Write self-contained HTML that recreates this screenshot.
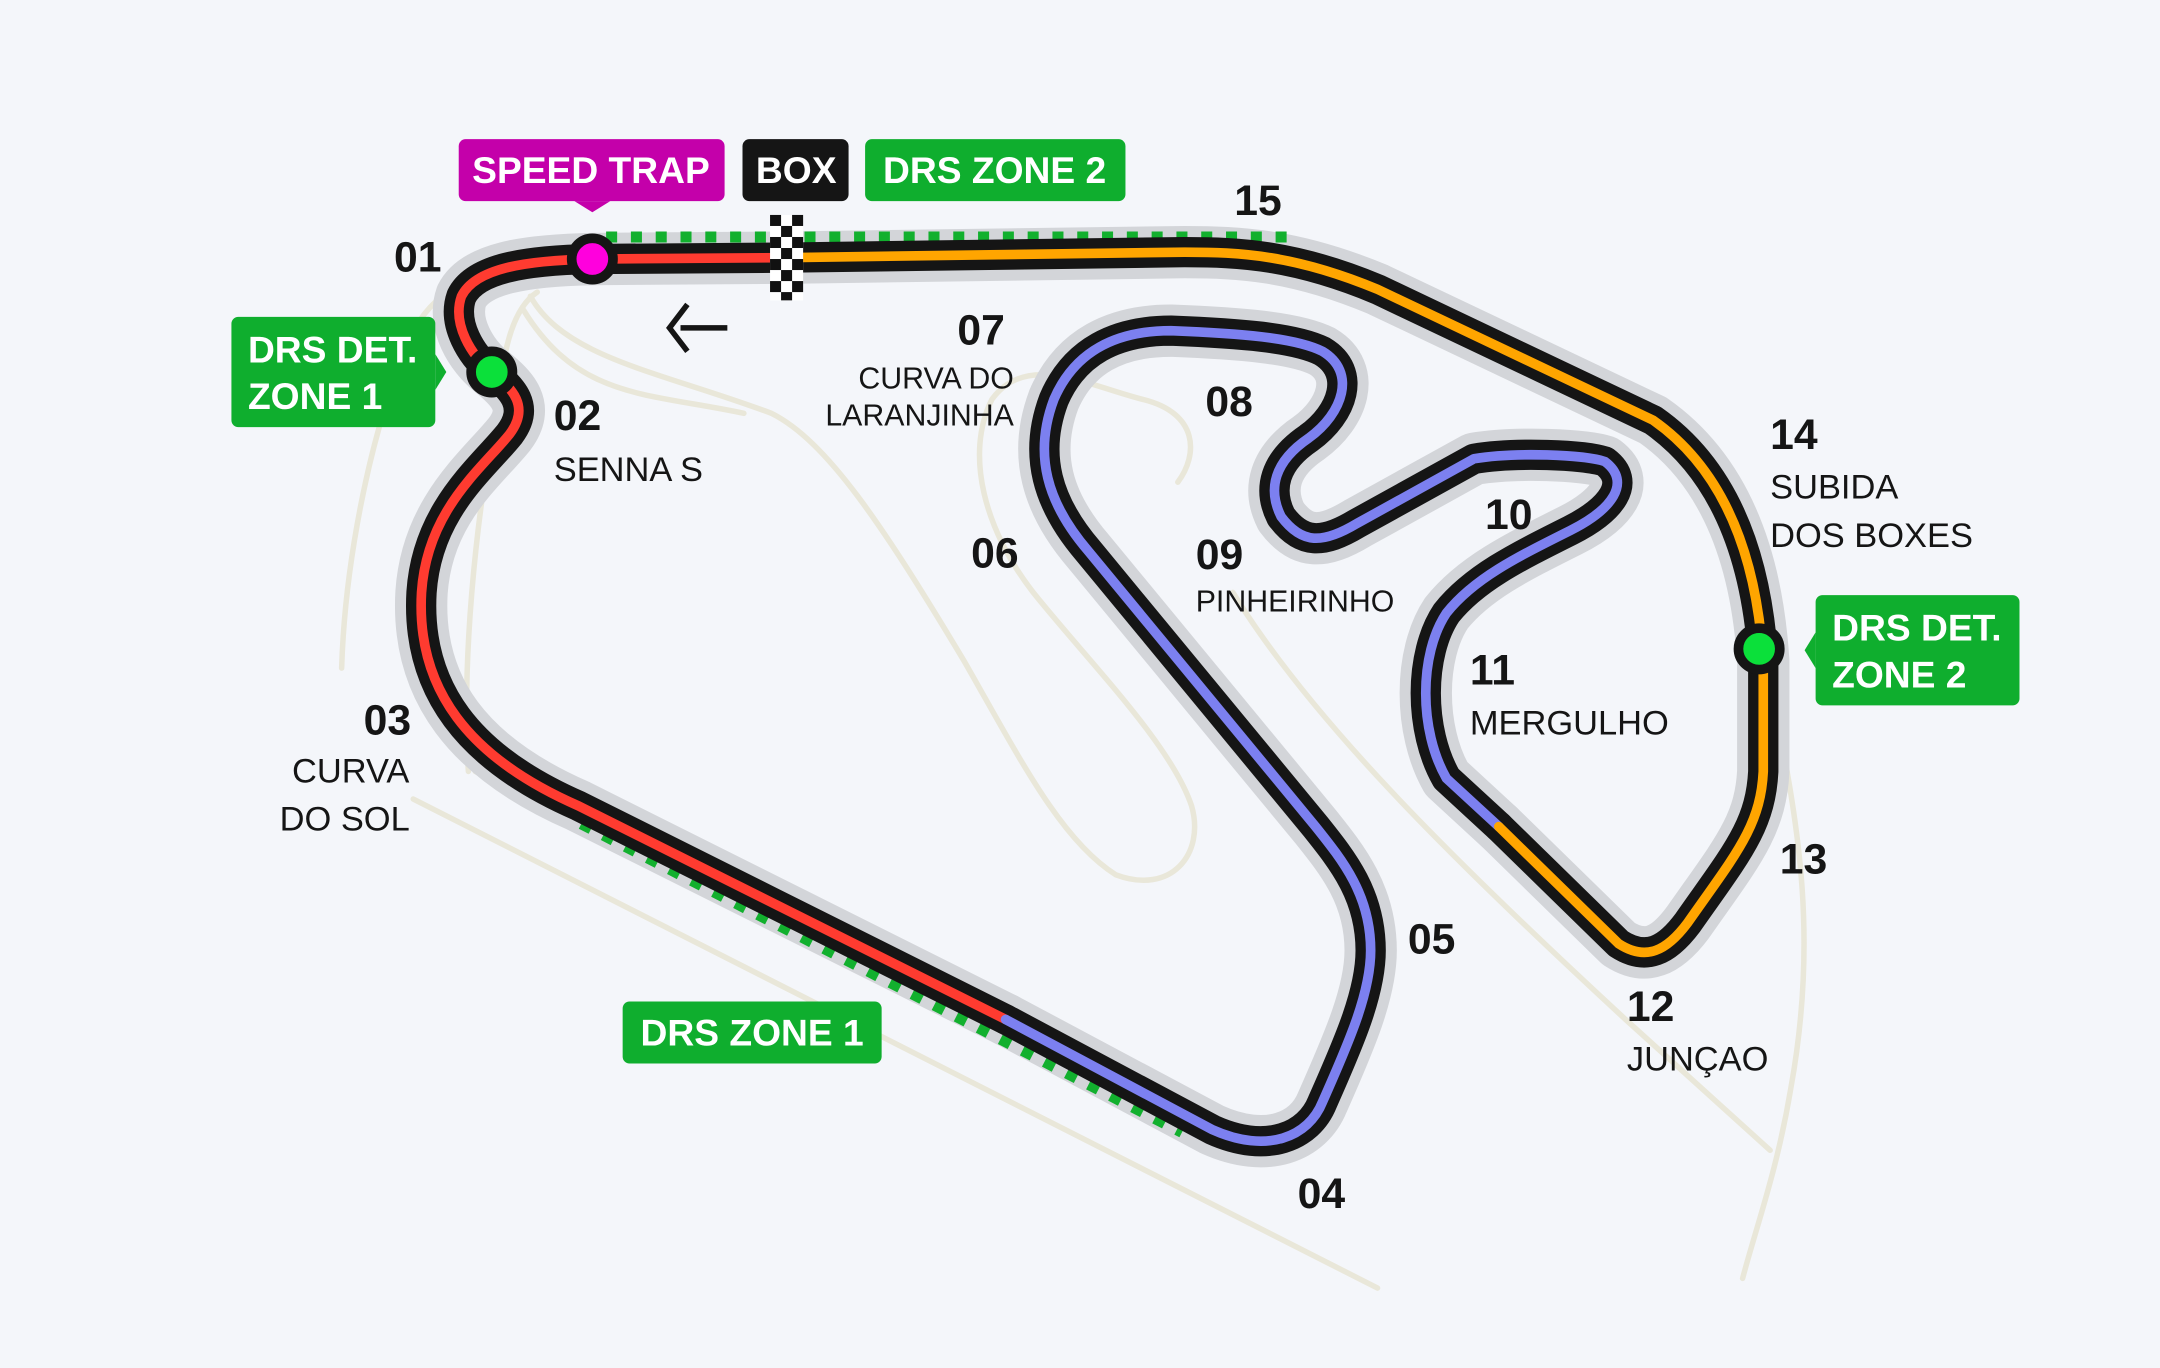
<!DOCTYPE html>
<html><head><meta charset="utf-8"><style>
html,body{margin:0;padding:0;background:#f4f6fa;}
svg{display:block;}
text{font-family:"Liberation Sans",sans-serif;fill:#151515;}
.n{font-weight:bold;font-size:31px;}
.l{font-size:25px;}
.w{fill:#fff;font-weight:bold;font-size:27px;}
</style></head><body>
<svg width="2160" height="1368" viewBox="0 0 1568 993" xmlns="http://www.w3.org/2000/svg">
<rect width="1568" height="993" fill="#f4f6fa"/>
<g fill="none" stroke="#e9e7d9" stroke-width="4" stroke-linecap="round">
<path d="M248,485 C250,420 265,320 300,240 C320,205 350,195 395,200"/>
<path d="M340,560 C335,480 345,380 360,300 C365,260 370,225 390,212"/>
<path d="M300,580 L1000,935"/>
<path d="M345,560 L860,820"/>
<path d="M385,215 C410,260 480,270 560,300 C600,320 640,380 700,480 C740,550 770,610 810,635 C850,650 875,620 865,585 C850,540 790,480 750,430 C715,385 700,330 720,290 C745,255 790,280 830,290 C870,300 870,330 855,350"/>
<path d="M380,225 C420,290 470,285 540,300"/>
<path d="M1290,520 C1305,600 1320,680 1300,790 C1290,850 1275,890 1265,928"/>
<path d="M895,430 C950,520 1050,620 1180,740 L1285,835"/>
</g>
<defs>
<path id="s1" d="M570,187 L430,188 C380,189 345,195 335,215 C328,235 342,258 357,270 C372,282 385,295 370,315 C350,340 310,370 306,430 C302,500 340,550 420,585 L730,740"/>
<path id="s2" d="M730,740 L880,820 C920,838 950,825 960,800 C980,755 995,720 995,690 C995,650 975,625 955,600 L790,400 C760,365 750,330 765,290 C780,255 810,240 850,240 C900,242 940,245 960,255 C985,270 975,300 950,318 C925,335 920,355 930,375 C945,395 960,395 985,380 L1070,333 C1100,328 1150,330 1165,335 C1185,350 1170,370 1140,385 C1100,405 1070,420 1050,445 C1030,475 1030,530 1050,565 L1088,600"/>
<path id="s3" d="M1088,600 L1175,685 C1195,698 1210,690 1225,670 C1260,620 1278,600 1280,560 L1280,480 C1275,400 1250,340 1200,305 L1000,210 C940,185 900,183 860,183 L570,187"/>
</defs>
<g fill="none" stroke-linecap="round" stroke-linejoin="round">
<g stroke="#d3d5d9" stroke-width="38"><use href="#s1"/><use href="#s2"/><use href="#s3"/></g>
<path d="M440,172 L935,172" stroke="#12b02e" stroke-width="8" stroke-dasharray="8,10" stroke-linecap="butt"/>
<path d="M422,598 L858,822" stroke="#12b02e" stroke-width="8" stroke-dasharray="8,10" stroke-linecap="butt"/>
<g stroke="#151515" stroke-width="22"><use href="#s1"/><use href="#s2"/><use href="#s3"/></g>
<use href="#s1" stroke="#ff3b30" stroke-width="7"/>
<use href="#s2" stroke="#7c80f0" stroke-width="7"/>
<use href="#s3" stroke="#ffa500" stroke-width="7"/>
</g>
<g fill="#111">
<rect x="559" y="156" width="24" height="62" fill="#fff"/>
<rect x="559" y="156" width="8" height="8"/><rect x="575" y="156" width="8" height="8"/>
<rect x="567" y="164" width="8" height="8"/>
<rect x="559" y="172" width="8" height="8"/><rect x="575" y="172" width="8" height="8"/>
<rect x="567" y="180" width="8" height="8"/>
<rect x="559" y="188" width="8" height="8"/><rect x="575" y="188" width="8" height="8"/>
<rect x="567" y="196" width="8" height="8"/>
<rect x="559" y="204" width="8" height="8"/><rect x="575" y="204" width="8" height="8"/>
<rect x="567" y="212" width="8" height="6"/>
</g>
<path d="M499,221 L486,238 L499,255 M494,238 L528,238" fill="none" stroke="#151515" stroke-width="4"/>
<circle cx="430" cy="188" r="15" fill="#ff00dd" stroke="#151515" stroke-width="7"/>
<circle cx="357" cy="270" r="15" fill="#0be03a" stroke="#151515" stroke-width="7"/>
<circle cx="1277" cy="471" r="15" fill="#0be03a" stroke="#151515" stroke-width="7"/>
<rect x="333" y="101" width="193" height="45" rx="5" fill="#c400aa"/>
<path d="M417,146 L430,154 L443,146Z" fill="#c400aa"/>
<text class="w" x="429" y="133" text-anchor="middle">SPEED TRAP</text>
<rect x="539" y="101" width="77" height="45" rx="5" fill="#151515"/>
<text class="w" x="578" y="133" text-anchor="middle">BOX</text>
<rect x="628" y="101" width="189" height="45" rx="5" fill="#0fae2e"/>
<text class="w" x="722" y="133" text-anchor="middle">DRS ZONE 2</text>
<rect x="168" y="230" width="148" height="80" rx="5" fill="#0fae2e"/>
<path d="M316,257 L324,270 L316,283Z" fill="#0fae2e"/>
<text class="w" x="180" y="263">DRS DET.</text><text class="w" x="180" y="297">ZONE 1</text>
<rect x="1318" y="432" width="148" height="80" rx="5" fill="#0fae2e"/>
<path d="M1318,459 L1310,472 L1318,485Z" fill="#0fae2e"/>
<text class="w" x="1330" y="465">DRS DET.</text><text class="w" x="1330" y="499">ZONE 2</text>
<rect x="452" y="727" width="188" height="45" rx="5" fill="#0fae2e"/>
<text class="w" x="546" y="759" text-anchor="middle">DRS ZONE 1</text>
<text class="n" x="286" y="197">01</text>
<text class="n" x="402" y="312">02</text><text class="l" x="402" y="349">SENNA S</text>
<text class="n" x="264" y="533">03</text><text class="l" x="212" y="568">CURVA</text><text class="l" x="203" y="603">DO SOL</text>
<text class="n" x="942" y="877">04</text>
<text class="n" x="1022" y="692">05</text>
<text class="n" x="705" y="412">06</text>
<text class="n" x="695" y="250">07</text>
<text class="l" x="736" y="282" text-anchor="end" style="font-size:22px">CURVA DO</text>
<text class="l" x="736" y="309" text-anchor="end" style="font-size:22px">LARANJINHA</text>
<text class="n" x="875" y="302">08</text>
<text class="n" x="868" y="413">09</text><text class="l" x="868" y="444" style="font-size:22px">PINHEIRINHO</text>
<text class="n" x="1078" y="384">10</text>
<text class="n" x="1067" y="497">11</text><text class="l" x="1067" y="533">MERGULHO</text>
<text class="n" x="1181" y="741">12</text><text class="l" x="1181" y="777">JUNÇAO</text>
<text class="n" x="1292" y="634">13</text>
<text class="n" x="1285" y="326">14</text><text class="l" x="1285" y="362">SUBIDA</text><text class="l" x="1285" y="397">DOS BOXES</text>
<text class="n" x="896" y="156">15</text>
</svg>
</body></html>
